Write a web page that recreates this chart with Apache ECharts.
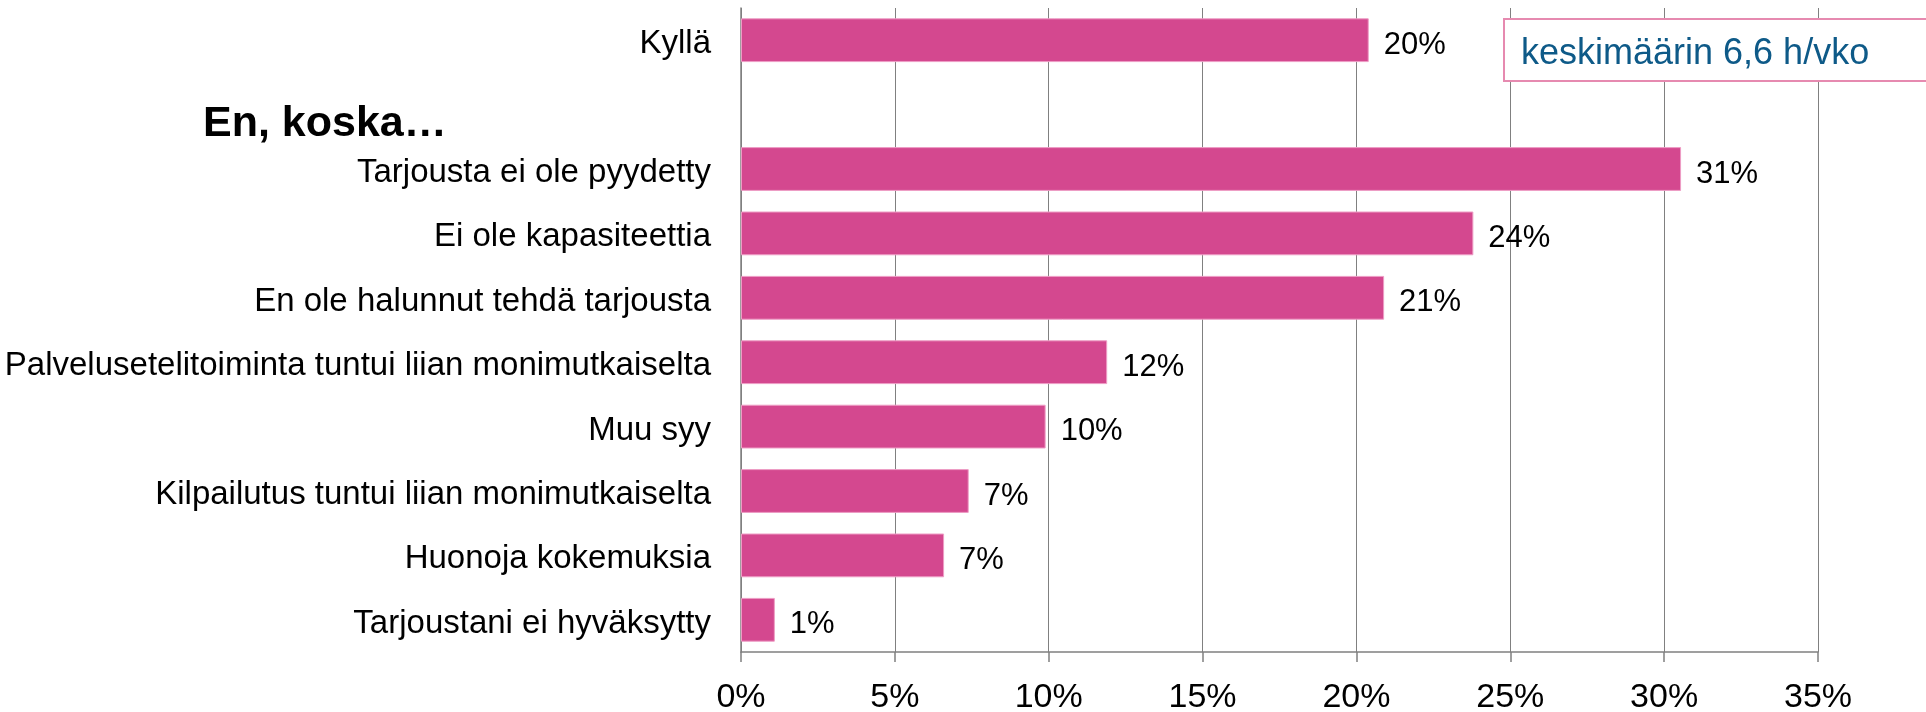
<!DOCTYPE html>
<html>
<head>
<meta charset="utf-8">
<title>Tarjoukset</title>
<script src="https://cdn.jsdelivr.net/npm/echarts@6/dist/echarts.min.js"></script>
<style>
  html, body { margin: 0; padding: 0; background: #fff; }
  #chart { width: 1926px; height: 712px; }
</style>
</head>
<body>
<div id="chart"></div>
<script>
// kategoriat ylhäältä alas, väliotsikko omalla rivillään
const categories = [
  'Kyllä',
  'En, koska…',
  'Tarjousta ei ole pyydetty',
  'Ei ole kapasiteettia',
  'En ole halunnut tehdä tarjousta',
  'Palvelusetelitoiminta tuntui liian monimutkaiselta',
  'Muu syy',
  'Kilpailutus tuntui liian monimutkaiselta',
  'Huonoja kokemuksia',
  'Tarjoustani ei hyväksytty'
]
const headerCategory = 'En, koska…'
// osuudet prosentteina, väliotsikolla ei palkkia
const shares = [20.4, null, 30.55, 23.8, 20.9, 11.9, 9.9, 7.4, 6.6, 1.1]
const xTicks = [0, 5, 10, 15, 20, 25, 30, 35]
const noteText = 'keskimäärin 6,6 h/vko'

const font = "'Liberation Sans', Arial, sans-serif"
const chart = echarts.init(document.getElementById('chart'), null, { renderer: 'canvas' })

chart.setOption({
  animation: false,
  textStyle: { fontFamily: font },
  grid: {
    left: 741,
    right: 108,
    top: 8,
    bottom: 60,
    containLabel: false,
    outerBoundsMode: 'none'
  },
  xAxis: {
    type: 'value',
    min: xTicks[0],
    max: xTicks[xTicks.length - 1],
    interval: 5,
    axisLine: { show: true, lineStyle: { color: '#808080', width: 1.5 } },
    axisTick: { show: true, length: 10, lineStyle: { color: '#808080', width: 1.5 } },
    splitLine: { show: true, lineStyle: { color: '#808080', width: 1 } },
    axisLabel: {
      formatter: '{value}%',
      color: '#000',
      fontSize: 34,
      fontFamily: font,
      margin: 29
    }
  },
  yAxis: {
    type: 'category',
    inverse: true,
    data: categories,
    axisLine: { show: true, lineStyle: { color: '#808080', width: 1.5 } },
    axisTick: { show: false },
    axisLabel: {
      color: '#000',
      fontSize: 33,
      fontFamily: font,
      margin: 30,
      // teksti hieman palkin keskilinjan alapuolelle
      verticalAlign: 'top',
      lineHeight: 8,
      // väliotsikko piirretään erikseen
      formatter: v => (v === headerCategory ? '' : v)
    }
  },
  series: [{
    type: 'bar',
    data: shares.map(v => (v == null ? '-' : v)),
    barCategoryGap: '32%',
    itemStyle: {
      color: '#D4488F',
      borderColor: '#EE9DC5',
      borderWidth: 1
    },
    label: {
      show: true,
      position: 'right',
      distance: 15,
      offset: [0, 5],
      color: '#000',
      fontSize: 31,
      fontFamily: font,
      formatter: p => Math.round(p.value) + '%'
    }
  }],
  graphic: [
    {
      type: 'text',
      left: 203,
      top: 103,
      style: {
        text: headerCategory,
        fontSize: 43,
        fontWeight: 'bold',
        fontFamily: font,
        fill: '#000'
      }
    },
    {
      type: 'rect',
      shape: { x: 1504, y: 19, width: 500, height: 62 },
      style: { fill: '#fff', stroke: '#E68AB0', lineWidth: 2 },
      z: 10
    },
    {
      type: 'text',
      left: 1521,
      top: 36,
      z: 11,
      style: {
        text: noteText,
        fontSize: 36,
        fontFamily: font,
        fill: '#0E5A88'
      }
    }
  ]
})
</script>
</body>
</html>
